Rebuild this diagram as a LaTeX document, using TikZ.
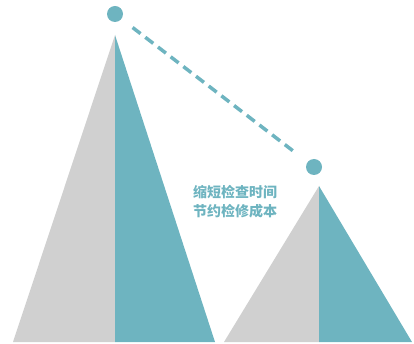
\documentclass[tikz,border=0pt]{standalone}
\usepackage{fontspec}
\newfontfamily\cjk{Noto Sans CJK SC}
\usetikzlibrary{positioning}
\definecolor{tealpeak}{RGB}{110,180,192}
\definecolor{greypeak}{RGB}{208,208,208}

\begin{document}
\begin{tikzpicture}[x=1pt,y=-1pt]
	\tikzset{
	dot/.style={circle, fill=tealpeak, minimum size=16pt, inner sep=0pt}, % the round marks above the peaks
	link/.style={draw=tealpeak, line width=3.5pt, dash pattern=on 10pt off 6pt, shorten <=14pt, shorten >=16pt}, % dashed link between the marks
	note/.style={text=tealpeak, font=\cjk\bfseries\fontsize{14}{19}\selectfont, align=center} % the text in the middle
	}
	\useasboundingbox (0,0) rectangle (414,344);
	% big peak
	\fill[greypeak] (13,342) -- (115,35) -- (115,342) -- cycle;
	\fill[tealpeak] (115,342) -- (115,35) -- (215,342) -- cycle;
	% small peak
	\fill[greypeak] (224,342) -- (319,186) -- (319,342) -- cycle;
	\fill[tealpeak] (319,342) -- (319,186) -- (412,342) -- cycle;
	\node[dot] (top) at (115,14) {};
	\node[dot] (low) at (314,167) {};
	\draw[link] (top) -- (low);
	\node[note] (gain) at (235,202) {缩短检查时间\\节约检修成本};
\end{tikzpicture}
\end{document}
